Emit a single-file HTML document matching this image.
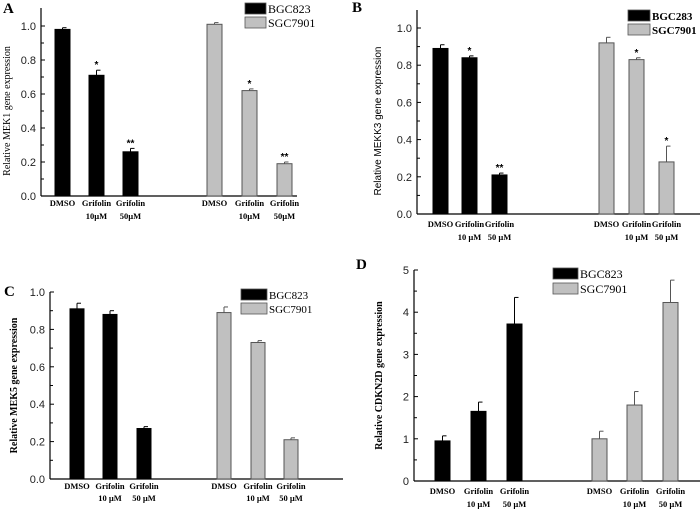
<!DOCTYPE html>
<html><head><meta charset="utf-8"><style>
html,body{margin:0;padding:0;background:#fff;}
svg{display:block;}
text{font-family:"Liberation Sans",sans-serif;}
.serif{font-family:"Liberation Serif",serif;}
</style></head><body>
<svg id="fig" width="700" height="517" viewBox="0 0 700 517" xmlns="http://www.w3.org/2000/svg"></svg>
<script>
const categories = ["DMSO","Grifolin 10\u00b5M","Grifolin 50\u00b5M"];
const aBGC = [0.98,0.71,0.26]; const aBGCerr=[0.01,0.03,0.02];
const aSGC = [1.01,0.62,0.19]; const aSGCerr=[0.01,0.01,0.01];
const aStarsB=["","*","**"]; const aStarsS=["","*","**"];
const bBGC = [0.89,0.84,0.21]; const bBGCerr=[0.02,0.01,0.01];
const bSGC = [0.92,0.83,0.28]; const bSGCerr=[0.03,0.01,0.085];
const bStarsB=["","*","**"]; const bStarsS=["","*","*"];
const cBGC = [0.91,0.88,0.27]; const cBGCerr=[0.03,0.02,0.01];
const cSGC = [0.89,0.73,0.21]; const cSGCerr=[0.03,0.01,0.01];
const dBGC = [0.95,1.65,3.72]; const dBGCerr=[0.12,0.22,0.63];
const dSGC = [1.0,1.8,4.23]; const dSGCerr=[0.18,0.32,0.53];
const ticks01 = [0,0.2,0.4,0.6,0.8,1.0];
const ticks05 = [0,1,2,3,4,5];
const NS="http://www.w3.org/2000/svg";
const svg=document.getElementById('fig');
function el(tag,attrs,parent,txt){const e=document.createElementNS(NS,tag);for(const k in attrs)e.setAttribute(k,attrs[k]);if(txt!==undefined)e.textContent=txt;(parent||svg).appendChild(e);return e;}
function panel(p){
  const g=el('g',{});
  
  
  const y=v=>p.y0-(v-p.ymin)/(p.ymax-p.ymin)*(p.y0-p.y1);
  const L=el('text',{x:p.lx,y:p.ly,'font-size':15,'font-weight':'bold',class:'serif'},g,p.id);
  
  
  // axes
  const ya=el('line',{x1:p.ax,y1:p.atop,x2:p.ax,y2:p.y0,stroke:'#000','stroke-width':1.2},g);
  
  
  const xa=el('line',{x1:p.ax,y1:p.y0,x2:p.xend,y2:p.y0,stroke:'#000','stroke-width':1.2},g);
  
  
  p.ticks.forEach((t,i)=>{
    const ty=y(t);
    el('line',{x1:p.ax,y1:ty,x2:p.ax+4,y2:ty,stroke:'#000'},g);
    const tl=el('text',{x:p.ax-5,y:ty+4,'font-size':11,'text-anchor':'end',fill:'#222'},g,p.fmt(t));
    
    
    if(i<p.ticks.length-1){const my=y((t+p.ticks[i+1])/2);el('line',{x1:p.ax,y1:my,x2:p.ax+3,y2:my,stroke:'#000'},g);}
  });
  const yl=el('text',{transform:`translate(${p.ylx},${(p.y0+p.y1)/2}) rotate(-90)`,'font-size':p.ylsize,'text-anchor':'middle','font-weight':p.ylbold?'bold':'normal',class:p.ylserif?'serif':''},g,p.ylabel);
  
  
  const series=[{v:p.b,e:p.be,xs:p.bx,fill:'#000',s:p.sb},{v:p.s,e:p.se,xs:p.sx,fill:'#c0c0c0',s:p.ss}];
  series.forEach((sr,si)=>{
    sr.v.forEach((v,i)=>{
      const x=sr.xs[i], w=p.bw, top=y(v);
      const r=el('rect',{x:x,y:top,width:w,height:p.y0-top,fill:sr.fill,stroke:si?'#555':'#000','stroke-width':1},g);
      
      
      const et=y(v+sr.e[i]);
      el('line',{x1:x+w/2,y1:top,x2:x+w/2,y2:et,stroke:si?'#555':'#000'},g);
      el('line',{x1:x+w/2,y1:et,x2:x+w/2+4,y2:et,stroke:si?'#555':'#000'},g);
      if(sr.s&&sr.s[i]){const st=el('text',{x:x+w/2,y:et-2,'font-size':10,'text-anchor':'middle','font-weight':'bold'},g,sr.s[i]);
        
        }
      const parts=categories[i].split(' ');
      const l1=parts[0], l2=parts[1]?parts[1].replace('\u00b5M',p.sp+'\u00b5M'):null;
      const c1=el('text',{x:x+w/2,y:p.lab1,'font-size':8.5,'text-anchor':'middle','font-weight':'bold',class:'serif'},g,l1);
      
      
      if(l2){const c2=el('text',{x:x+w/2,y:p.lab2,'font-size':8.5,'text-anchor':'middle','font-weight':'bold',class:'serif'},g,l2);
        
        }
    });
  });
  [[p.names[0],'#000'],[p.names[1],'#c0c0c0']].forEach((n,i)=>{
    const ry=p.legy+i*p.legdy;
    const lr=el('rect',{x:p.legx,y:ry,width:p.legw,height:p.legh,fill:n[1],stroke:'#555','stroke-width':0.8},g);
    
    
    const lt=el('text',{x:p.legx+p.legw+2,y:ry+p.legh-1,'font-size':p.legfs,class:'serif','font-weight':p.legbold?'bold':'normal'},g,n[0]);
    
    
  });
}
const f1=t=>t.toFixed(1), f0=t=>String(t);
panel({id:'A',lx:3,ly:13,ax:41,atop:8,y0:196,y1:26,ymin:0,ymax:1.0,xend:297,ticks:ticks01,fmt:f1,
 ylx:10,ylabel:'Relative MEK1 gene expression',ylsize:10,ylserif:true,ylbold:false,
 b:aBGC,be:aBGCerr,s:aSGC,se:aSGCerr,sb:aStarsB,ss:aStarsS,bx:[55,89,123],sx:[207,242,277],bw:15,lab1:206,lab2:219,sp:'',
 names:['BGC823','SGC7901'],legx:245,legy:3,legdy:14,legw:21,legh:11,legfs:12,legbold:false});
panel({id:'B',lx:352,ly:12,ax:417,atop:10,y0:214,y1:28,ymin:0,ymax:1.0,xend:700,ticks:ticks01,fmt:f1,
 ylx:381,ylabel:'Relative MEKK3 gene expression',ylsize:10,ylserif:false,ylbold:false,
 b:bBGC,be:bBGCerr,s:bSGC,se:bSGCerr,sb:bStarsB,ss:bStarsS,bx:[433,462,492],sx:[599,629,659],bw:15,lab1:227,lab2:240,sp:' ',
 names:['BGC283','SGC7901'],legx:628,legy:10,legdy:14,legw:22,legh:11,legfs:11,legbold:true});
panel({id:'C',lx:4,ly:296,ax:50,atop:292,y0:479,y1:292,ymin:0,ymax:1.0,xend:343,ticks:ticks01,fmt:f1,
 ylx:17,ylabel:'Relative MEK5 gene expression',ylsize:10,ylserif:true,ylbold:true,
 b:cBGC,be:cBGCerr,s:cSGC,se:cSGCerr,sb:null,ss:null,bx:[70,103,137],sx:[217,251,284],bw:14,lab1:489,lab2:501,sp:' ',
 names:['BGC823','SGC7901'],legx:241,legy:289,legdy:14,legw:26,legh:11,legfs:11,legbold:false});
panel({id:'D',lx:356,ly:269,ax:414,atop:270,y0:481,y1:270,ymin:0,ymax:5,xend:700,ticks:ticks05,fmt:f0,
 ylx:382,ylabel:'Relative CDKN2D gene expression',ylsize:10,ylserif:true,ylbold:true,
 b:dBGC,be:dBGCerr,s:dSGC,se:dSGCerr,sb:null,ss:null,bx:[435,471,507],sx:[592,627,663],bw:15,lab1:494,lab2:507,sp:' ',
 names:['BGC823','SGC7901'],legx:553,legy:268,legdy:15,legw:25,legh:11,legfs:12,legbold:false});
</script>
</body></html>
